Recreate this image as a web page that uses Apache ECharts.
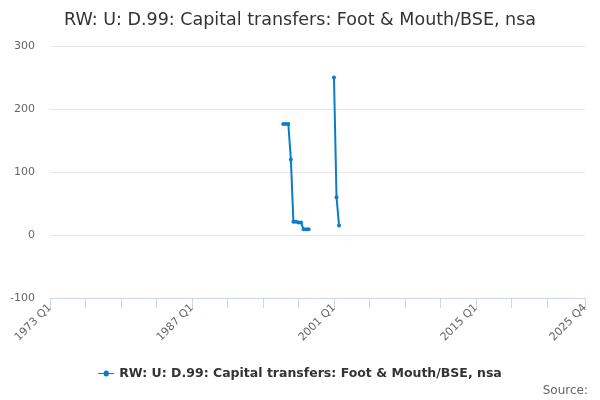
<!DOCTYPE html>
<html><head><meta charset="utf-8">
<script src="https://cdn.jsdelivr.net/npm/echarts@6/dist/echarts.min.js"></script>
<style>html,body{margin:0;padding:0;background:#fff}#c{width:600px;height:400px}</style>
</head><body><div id="c"></div>
<script>
const startYear = 1973, endYear = 2025;
const categories = [];
for (let y = startYear; y <= endYear; y++) for (let q = 1; q <= 4; q++) categories.push(y + ' Q' + q);
// observed quarters and values
const obsQuarters = ['1996 Q1','1996 Q2','1996 Q3','1996 Q4','1997 Q1','1997 Q2','1997 Q3','1997 Q4','1998 Q1','1998 Q2','1998 Q3','2001 Q1','2001 Q2','2001 Q3'];
const obsValues   = [176, 176, 176, 120, 21, 21, 20, 20, 9, 9, 9, 250, 60, 15];
const seriesName = 'RW: U: D.99: Capital transfers: Foot & Mouth/BSE, nsa';
const yTicks = {min: -100, max: 300, interval: 100};

const values = categories.map(() => null);
obsQuarters.forEach((q, i) => { values[categories.indexOf(q)] = obsValues[i]; });
const last = categories.length - 1;
const color = '#0a7dc8';

const chart = echarts.init(document.getElementById('c'));
chart.setOption({
  animation: false,
  textStyle: {fontFamily: 'DejaVu Sans'},
  title: {text: seriesName, left: 'center', top: 6,
    textStyle: {fontSize: 17.5, fontWeight: 'normal', color: '#333', fontFamily: 'DejaVu Sans'}},
  grid: {left: 50, right: 15, top: 46, bottom: 102},
  legend: {bottom: 15, left: 'center', itemWidth: 16, itemHeight: 6, itemGap: 5,
    textStyle: {fontSize: 12.5, fontWeight: 'bold', color: '#333'},
    data: [{name: seriesName,
      icon: 'path://M0,2.5 L5.5,2.5 A2.5,2.5 0 0 1 10.5,2.5 L16,2.5 L16,3.5 L10.5,3.5 A2.5,2.5 0 0 1 5.5,3.5 L0,3.5 Z',
      itemStyle: {color: color}}]},
  graphic: [{type: 'text', right: 12, bottom: 3,
    style: {text: 'Source:', fontSize: 12, fill: '#666', fontFamily: 'DejaVu Sans'}}],
  xAxis: {type: 'category', data: categories, boundaryGap: false,
    axisLine: {onZero: false, lineStyle: {color: '#ccd6eb'}},
    axisTick: {length: 10, lineStyle: {color: '#ccd6eb'}, interval: (i) => (i % 14 === 0 && i < 210) || i === last},
    axisLabel: {rotate: 45, fontSize: 11, color: '#666', margin: 8,
      interval: (i) => i % 56 === 0 || i === last},
    splitLine: {show: false}},
  yAxis: {type: 'value', min: yTicks.min, max: yTicks.max, interval: yTicks.interval,
    axisLine: {show: false}, axisTick: {show: false},
    axisLabel: {fontSize: 11, color: '#666', margin: 15},
    splitLine: {lineStyle: {color: '#e6e6e6'}}},
  series: [{name: seriesName, type: 'line', data: values, connectNulls: false,
    symbol: 'circle', symbolSize: 4, showAllSymbol: true,
    lineStyle: {width: 2, color: color}, itemStyle: {color: color}}]
});
</script></body></html>
